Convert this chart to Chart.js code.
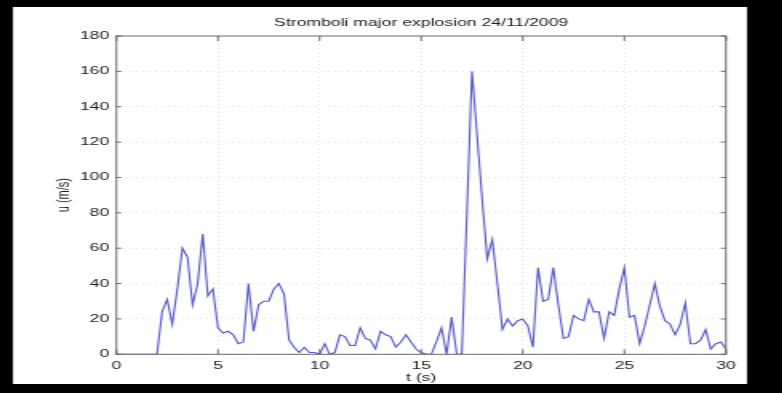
<!DOCTYPE html>
<html>
<head>
<meta charset="utf-8">
<title>Stromboli major explosion 24/11/2009</title>
<script src="https://cdn.jsdelivr.net/npm/chart.js@4.4.1/dist/chart.umd.min.js"></script>
<style>
  html, body { margin: 0; padding: 0; background: #000; overflow: hidden; }
  /* the figure is drawn narrow and widened horizontally, like a stretched MATLAB export */
  #wrap { position: absolute; left: 0; top: 0; width: 489px; height: 393px;
          transform: scaleX(1.6); transform-origin: 0 0; }
  canvas { display: block; }
</style>
</head>
<body>
<div id="wrap"><canvas id="c" width="489" height="393"></canvas></div>
<script>
// Ejection velocity u (m/s) sampled every 0.25 s
const TIME = [
  0, 0.25, 0.5, 0.75,
  1, 1.25, 1.5, 1.75,
  2, 2.25, 2.5, 2.75,
  3, 3.25, 3.5, 3.75,
  4, 4.25, 4.5, 4.75,
  5, 5.25, 5.5, 5.75,
  6, 6.25, 6.5, 6.75,
  7, 7.25, 7.5, 7.75,
  8, 8.25, 8.5, 8.75,
  9, 9.25, 9.5, 9.75,
  10, 10.25, 10.5, 10.75,
  11, 11.25, 11.5, 11.75,
  12, 12.25, 12.5, 12.75,
  13, 13.25, 13.5, 13.75,
  14, 14.25, 14.5, 14.75,
  15, 15.25, 15.5, 15.75,
  16, 16.25, 16.5, 16.75,
  17, 17.25, 17.5, 17.75,
  18, 18.25, 18.5, 18.75,
  19, 19.25, 19.5, 19.75,
  20, 20.25, 20.5, 20.75,
  21, 21.25, 21.5, 21.75,
  22, 22.25, 22.5, 22.75,
  23, 23.25, 23.5, 23.75,
  24, 24.25, 24.5, 24.75,
  25, 25.25, 25.5, 25.75,
  26, 26.25, 26.5, 26.75,
  27, 27.25, 27.5, 27.75,
  28, 28.25, 28.5, 28.75,
  29, 29.25, 29.5, 29.75,
  30
];

const VELOCITY = [
  0, 0, 0, 0,
  0, 0, 0, 0,
  0, 24, 31, 17,
  37, 60, 55, 28,
  40, 68, 33, 37,
  15, 12, 13, 11,
  6, 7, 40, 13,
  28, 30, 30, 37,
  40, 34, 8, 4,
  1, 4, 1, 1,
  0, 6, 0, 1,
  11, 10, 5, 5,
  15, 9, 8, 3,
  13, 11, 10, 4,
  7, 11, 7, 3,
  1, 0, 0, 7,
  15, 0, 21, 0,
  0, 80, 160, 124,
  88, 54, 65, 40,
  14, 20, 16, 19,
  20, 16, 4, 49,
  30, 31, 49, 28,
  9, 10, 22, 20,
  19, 31, 24, 24,
  9, 24, 22, 37,
  49, 21, 22, 6,
  16, 28, 40, 27,
  19, 17, 11, 17,
  29, 6, 6, 8,
  14, 3, 6, 7,
  3
];

const TITLE = 'Stromboli major explosion 24/11/2009';
const X_LABEL = 't (s)';
const Y_LABEL = 'u (m/s)';
const X_TICK_STEP = 5;
const Y_TICK_STEP = 20;

const SX = 1.6;            // horizontal widening applied by the wrapper
const FONT = { family: '"Liberation Sans", Arial, Helvetica, sans-serif', size: 11, weight: 'normal', lineHeight: 1.2 };
const INK = '#1c1c1c';

// black surround with a white figure panel
const panelPlugin = {
  id: 'panel',
  beforeDraw(chart) {
    const ctx = chart.ctx;
    ctx.save();
    ctx.fillStyle = '#000';
    ctx.fillRect(0, 0, chart.width, chart.height);
    ctx.fillStyle = '#fff';
    ctx.fillRect(13 / SX, 7, (747 - 13) / SX, 384 - 7);
    ctx.restore();
  }
};

// axes box with inward tick marks on all four sides
const boxPlugin = {
  id: 'axesBox',
  afterDatasetsDraw(chart) {
    const { ctx, chartArea: a, scales: { x, y } } = chart;
    ctx.save();
    ctx.strokeStyle = '#6a6a6a';
    ctx.lineWidth = 1;
    ctx.strokeRect(a.left, a.top, a.right - a.left, a.bottom - a.top);
    const tv = 5, th = 5 / SX;
    ctx.beginPath();
    x.ticks.forEach(t => {
      const px = x.getPixelForValue(t.value);
      ctx.moveTo(px, a.bottom); ctx.lineTo(px, a.bottom - tv);
      ctx.moveTo(px, a.top); ctx.lineTo(px, a.top + tv);
    });
    y.ticks.forEach(t => {
      const py = y.getPixelForValue(t.value);
      ctx.moveTo(a.left, py); ctx.lineTo(a.left + th, py);
      ctx.moveTo(a.right, py); ctx.lineTo(a.right - th, py);
    });
    ctx.stroke();
    ctx.restore();
  }
};

const gridStyle = { color: '#e2e2e2', lineWidth: 1, drawTicks: false };

new Chart(document.getElementById('c'), {
  type: 'line',
  data: {
    datasets: [{
      data: TIME.map((t, i) => ({ x: t, y: VELOCITY[i] })),
      borderColor: '#5656cc',
      borderWidth: 1.1,
      pointRadius: 0,
      tension: 0,
      fill: false
    }]
  },
  options: {
    responsive: false,
    animation: false,
    devicePixelRatio: 1,
    layout: { padding: { left: 0, right: 35.25, top: 0, bottom: 0 } },
    plugins: {
      legend: { display: false },
      tooltip: { enabled: false },
      title: {
        display: true, text: TITLE, fullSize: false, color: INK, font: FONT,
        padding: { top: 15.9, bottom: 6.9 }
      }
    },
    scales: {
      x: {
        type: 'linear', min: 0, max: 30,
        border: { display: false, dash: [1, 3] },
        grid: gridStyle,
        ticks: { stepSize: X_TICK_STEP, padding: 5, color: INK, font: FONT, maxRotation: 0 },
        title: { display: true, text: X_LABEL, color: INK, font: FONT, padding: { top: 0, bottom: 8 } },
        afterFit(s) { s.height = 38.7; }
      },
      y: {
        type: 'linear', min: 0, max: 180,
        border: { display: false, dash: [1, 3] },
        grid: gridStyle,
        ticks: { stepSize: Y_TICK_STEP, padding: 4.5, color: INK, font: FONT },
        title: { display: true, text: Y_LABEL, color: INK, font: FONT, padding: { top: 33.4, bottom: 0 } },
        afterFit(s) { s.width = 72.75; }
      }
    }
  },
  plugins: [panelPlugin, boxPlugin]
});
</script>
</body>
</html>
